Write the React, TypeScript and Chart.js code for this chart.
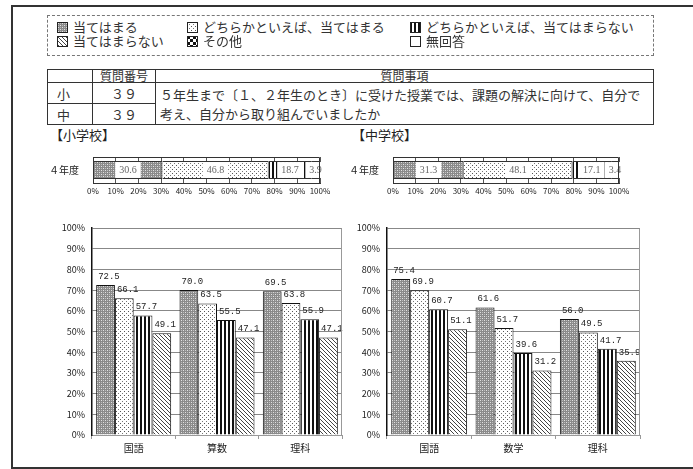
import { useEffect, useRef } from "react";
import { Chart, registerables } from "chart.js";
import type { Plugin } from "chart.js";

Chart.register(...registerables);

const FONT = "'Noto Sans CJK JP', 'Noto Sans', sans-serif";

// 回答区分
const responseLabels = [
  "当てはまる",
  "どちらかといえば、当てはまる",
  "どちらかといえば、当てはまらない",
  "当てはまらない",
];
const otherLabels = ["その他", "無回答"];
const responseKinds = ["cross", "dots", "vstripe", "diag"];
const otherKinds = ["check", "blank"];

// 回答割合（4年度）
const yearLabels = ["４年度"];
const elemShares = [30.6, 46.8, 18.7, 3.9];
const juniorShares = [31.3, 48.1, 17.1, 3.4];

// 回答区分別の平均正答率
const elemSubjects = ["国語", "算数", "理科"];
const elemAgree = [72.5, 70.0, 69.5];
const elemRatherAgree = [66.1, 63.5, 63.8];
const elemRatherDisagree = [57.7, 55.5, 55.9];
const elemDisagree = [49.1, 47.1, 47.1];

const juniorSubjects = ["国語", "数学", "理科"];
const juniorAgree = [75.4, 61.6, 56.0];
const juniorRatherAgree = [69.9, 51.7, 49.5];
const juniorRatherDisagree = [60.7, 39.6, 41.7];
const juniorDisagree = [51.1, 31.2, 35.9];

const elemSeries = [elemAgree, elemRatherAgree, elemRatherDisagree, elemDisagree];
const juniorSeries = [juniorAgree, juniorRatherAgree, juniorRatherDisagree, juniorDisagree];

function makeTile(kind: string) {
  const c = document.createElement("canvas");
  const size = kind === "check" ? 6 : kind === "blank" ? 1 : 4;
  c.width = size;
  c.height = kind === "vstripe" ? 1 : size;
  const g = c.getContext("2d")!;
  const px = (x: number, y: number, col: string) => {
    g.fillStyle = col;
    g.fillRect(x, y, 1, 1);
  };
  g.fillStyle = "#fff";
  g.fillRect(0, 0, c.width, c.height);
  if (kind === "cross") {
    g.fillStyle = "#8a8a8a";
    g.fillRect(0, 0, 4, 4);
    px(1, 1, "#e2e2e2");
    px(3, 3, "#e2e2e2");
    px(3, 1, "#bdbdbd");
    px(1, 3, "#bdbdbd");
  } else if (kind === "dots") {
    px(0, 0, "#555");
    px(2, 2, "#777");
  } else if (kind === "vstripe") {
    g.fillStyle = "#111";
    g.fillRect(0, 0, 2, 1);
  } else if (kind === "diag") {
    for (let i = 0; i < 4; i++) px(i, i, "#444");
  } else if (kind === "check") {
    g.fillStyle = "#111";
    g.fillRect(0, 0, 3, 3);
    g.fillRect(3, 3, 3, 3);
  }
  return c;
}

const frame: Plugin = {
  id: "frame",
  afterDraw(chart, _args, opts: any) {
    const { ctx, chartArea: a } = chart;
    const l = Math.round(a.left) + 0.5;
    const r = Math.round(a.right) - 0.5;
    const t = Math.round(a.top) + 0.5;
    const b = Math.round(a.bottom) + 0.5;
    ctx.save();
    ctx.strokeStyle = opts.color || "#333";
    ctx.lineWidth = 1;
    ctx.beginPath();
    if (opts.sides === "right") {
      ctx.moveTo(r, t);
      ctx.lineTo(r, b);
    } else {
      ctx.rect(l, t, r - l, b - t);
    }
    ctx.stroke();
    ctx.restore();
  },
};

const segmentLabels: Plugin = {
  id: "segmentLabels",
  afterDatasetsDraw(chart) {
    const { ctx } = chart;
    ctx.save();
    ctx.font = "10px 'Liberation Serif', serif";
    ctx.textAlign = "center";
    ctx.textBaseline = "middle";
    chart.data.datasets.forEach((ds, i) => {
      chart.getDatasetMeta(i).data.forEach((el: any, j) => {
        const v = ds.data[j] as number;
        const cx = (el.x + el.base) / 2;
        const text = v.toFixed(1);
        const w = ctx.measureText(text).width + 8;
        ctx.fillStyle = "#fff";
        ctx.fillRect(cx - w / 2, el.y - el.height / 2 + 1, w, el.height - 2);
        ctx.fillStyle = "#666";
        ctx.fillText(text, cx, el.y + 0.5);
      });
    });
    ctx.restore();
  },
};

const valueLabels: Plugin = {
  id: "valueLabels",
  afterDatasetsDraw(chart) {
    const { ctx } = chart;
    ctx.save();
    ctx.font = "9px 'Liberation Mono', monospace";
    ctx.textAlign = "left";
    ctx.textBaseline = "bottom";
    ctx.fillStyle = "#222";
    chart.data.datasets.forEach((ds, i) => {
      chart.getDatasetMeta(i).data.forEach((el: any, j) => {
        const v = ds.data[j] as number;
        ctx.fillText(v.toFixed(1), el.x - el.width / 2 + 2, el.y - 4);
      });
    });
    ctx.restore();
  },
};

function Swatch({ kind }: { kind: string }) {
  const ref = useRef<HTMLCanvasElement | null>(null);
  useEffect(() => {
    const c = ref.current;
    if (!c) return;
    const g = c.getContext("2d")!;
    g.fillStyle = g.createPattern(makeTile(kind), "repeat")!;
    g.fillRect(0, 0, 11, 11);
    g.strokeStyle = "#222";
    g.lineWidth = 1;
    g.strokeRect(0.5, 0.5, 10, 10);
  }, [kind]);
  return <canvas ref={ref} width={11} height={11} style={{ display: "block" }} />;
}

function Legend() {
  const items = [
    { kind: responseKinds[0], text: responseLabels[0], x: 57, row: 0 },
    { kind: responseKinds[1], text: responseLabels[1], x: 187, row: 0 },
    { kind: responseKinds[2], text: responseLabels[2], x: 410, row: 0 },
    { kind: responseKinds[3], text: responseLabels[3], x: 57, row: 1 },
    { kind: otherKinds[0], text: otherLabels[0], x: 187, row: 1 },
    { kind: otherKinds[1], text: otherLabels[1], x: 410, row: 1 },
  ];
  return (
    <>
      <div
        style={{
          position: "absolute",
          left: 47,
          top: 15,
          width: 605,
          height: 39,
          border: "1px dashed #777",
        }}
      />
      {items.map((it) => (
        <div
          key={it.text}
          style={{
            position: "absolute",
            left: it.x,
            top: 19 + it.row * 14,
            height: 16,
            display: "flex",
            alignItems: "center",
            gap: 5,
            fontSize: 13,
            lineHeight: "16px",
            whiteSpace: "nowrap",
            color: "#333",
          }}
        >
          <Swatch kind={it.kind} />
          <span>{it.text}</span>
        </div>
      ))}
    </>
  );
}

function QuestionTable() {
  const cell = { border: "1px solid #333", padding: 0 };
  return (
    <table
      style={{
        position: "absolute",
        left: 47,
        top: 69,
        width: 607,
        borderCollapse: "collapse",
        tableLayout: "fixed",
        fontSize: 13,
        lineHeight: 1,
        color: "#333",
      }}
    >
      <colgroup>
        <col style={{ width: 45 }} />
        <col style={{ width: 63 }} />
        <col />
      </colgroup>
      <tbody>
        <tr style={{ height: 12 }}>
          <td style={cell} />
          <td style={{ ...cell, textAlign: "center", fontSize: 12 }}>質問番号</td>
          <td style={{ ...cell, textAlign: "center", fontSize: 12 }}>質問事項</td>
        </tr>
        <tr style={{ height: 21 }}>
          <td style={{ ...cell, paddingLeft: 9 }}>小</td>
          <td style={{ ...cell, textAlign: "center" }}>３９</td>
          <td
            rowSpan={2}
            style={{ ...cell, paddingLeft: 4, lineHeight: "19px", whiteSpace: "nowrap" }}
          >
            ５年生まで〔１、２年生のとき〕に受けた授業では、課題の解決に向けて、自分で
            <br />
            考え、自分から取り組んでいましたか
          </td>
        </tr>
        <tr style={{ height: 21 }}>
          <td style={{ ...cell, paddingLeft: 9 }}>中</td>
          <td style={{ ...cell, textAlign: "center" }}>３９</td>
        </tr>
      </tbody>
    </table>
  );
}

function ShareBar({ shares, left, rightPad }: { shares: number[]; left: number; rightPad: number }) {
  const ref = useRef<HTMLCanvasElement | null>(null);
  useEffect(() => {
    const canvas = ref.current;
    if (!canvas) return;
    const ctx = canvas.getContext("2d")!;
    const chart = new Chart(canvas, {
      type: "bar",
      data: {
        labels: yearLabels,
        datasets: shares.map((v, i) => ({
          label: responseLabels[i],
          data: [v],
          backgroundColor: ctx.createPattern(makeTile(responseKinds[i]), "repeat")!,
          borderColor: "#333",
          borderWidth: 1,
          barPercentage: 0.69,
          categoryPercentage: 1,
        })),
      },
      options: {
        indexAxis: "y",
        animation: false,
        responsive: false,
        layout: { padding: { top: 9, right: rightPad, bottom: 0, left: 0 } },
        plugins: {
          legend: { display: false },
          tooltip: { enabled: false },
          frame: { color: "#333" },
        } as any,
        scales: {
          x: {
            stacked: true,
            min: 0,
            max: 100,
            ticks: {
              stepSize: 10,
              callback: (v) => `${v}%`,
              color: "#222",
              font: { family: FONT, size: 8 },
              padding: 3,
              maxRotation: 0,
              autoSkip: false,
            },
            grid: { color: "#555", drawTicks: false },
            border: { color: "#333" },
            afterFit: (s: any) => {
              s.height = 17;
            },
          },
          y: {
            stacked: true,
            grid: { display: false },
            ticks: { color: "#222", font: { family: FONT, size: 10 }, padding: 6 },
            border: { color: "#333" },
            afterFit: (s: any) => {
              s.width = 53;
            },
          },
        },
      },
      plugins: [frame, segmentLabels],
    });
    return () => chart.destroy();
  }, [shares, rightPad]);
  return (
    <div style={{ position: "absolute", left, top: 145, width: 300, height: 55 }}>
      <canvas ref={ref} width={300} height={55} />
    </div>
  );
}

function RateChart({
  subjects,
  series,
  left,
  rightPad,
}: {
  subjects: string[];
  series: number[][];
  left: number;
  rightPad: number;
}) {
  const ref = useRef<HTMLCanvasElement | null>(null);
  useEffect(() => {
    const canvas = ref.current;
    if (!canvas) return;
    const ctx = canvas.getContext("2d")!;
    const chart = new Chart(canvas, {
      type: "bar",
      data: {
        labels: subjects,
        datasets: series.map((data, i) => ({
          label: responseLabels[i],
          data,
          backgroundColor: ctx.createPattern(makeTile(responseKinds[i]), "repeat")!,
          borderColor: "#111",
          borderWidth: 1,
          categoryPercentage: 0.9,
          barPercentage: 1,
        })),
      },
      options: {
        animation: false,
        responsive: false,
        layout: { padding: { top: 13, right: rightPad, bottom: 10, left: 0 } },
        plugins: {
          legend: { display: false },
          tooltip: { enabled: false },
          frame: { color: "#999", sides: "right" },
        } as any,
        scales: {
          x: {
            grid: { offset: true, drawOnChartArea: false, drawTicks: true, tickLength: 4, color: "#999" },
            border: { color: "#999" },
            ticks: { color: "#222", font: { family: FONT, size: 10 }, padding: 3 },
            afterFit: (s: any) => {
              s.height = 20;
            },
          },
          y: {
            min: 0,
            max: 100,
            ticks: {
              stepSize: 10,
              callback: (v) => `${v}%`,
              color: "#222",
              font: { family: FONT, size: 9 },
              padding: 7,
            },
            grid: { color: "#888", drawTicks: false },
            border: { color: "#111", width: 1.5 },
            afterFit: (s: any) => {
              s.width = 52;
            },
          },
        },
      },
      plugins: [frame, valueLabels],
    });
    return () => chart.destroy();
  }, [subjects, series, rightPad]);
  return (
    <div style={{ position: "absolute", left, top: 215, width: 310, height: 250 }}>
      <canvas ref={ref} width={310} height={250} />
    </div>
  );
}

export default function App() {
  return (
    <div
      style={{
        position: "absolute",
        left: 0,
        top: 0,
        width: 693,
        height: 469,
        overflow: "hidden",
        background: "#fff",
        fontFamily: FONT,
        color: "#222",
      }}
    >
      <div
        style={{
          position: "absolute",
          left: 11,
          top: 5,
          width: 700,
          height: 460,
          borderTop: "2px solid #333",
          borderLeft: "2px solid #333",
          borderBottom: "2px solid #333",
        }}
      />
      <Legend />
      <QuestionTable />
      <div style={{ position: "absolute", left: 50, top: 127, fontSize: 13, lineHeight: "16px" }}>
        【小学校】
      </div>
      <div style={{ position: "absolute", left: 352, top: 127, fontSize: 13, lineHeight: "16px" }}>
        【中学校】
      </div>
      <ShareBar shares={elemShares} left={40} rightPad={20} />
      <ShareBar shares={juniorShares} left={340} rightPad={21} />
      <RateChart subjects={elemSubjects} series={elemSeries} left={40} rightPad={8} />
      <RateChart subjects={juniorSubjects} series={juniorSeries} left={335} rightPad={5} />
    </div>
  );
}
